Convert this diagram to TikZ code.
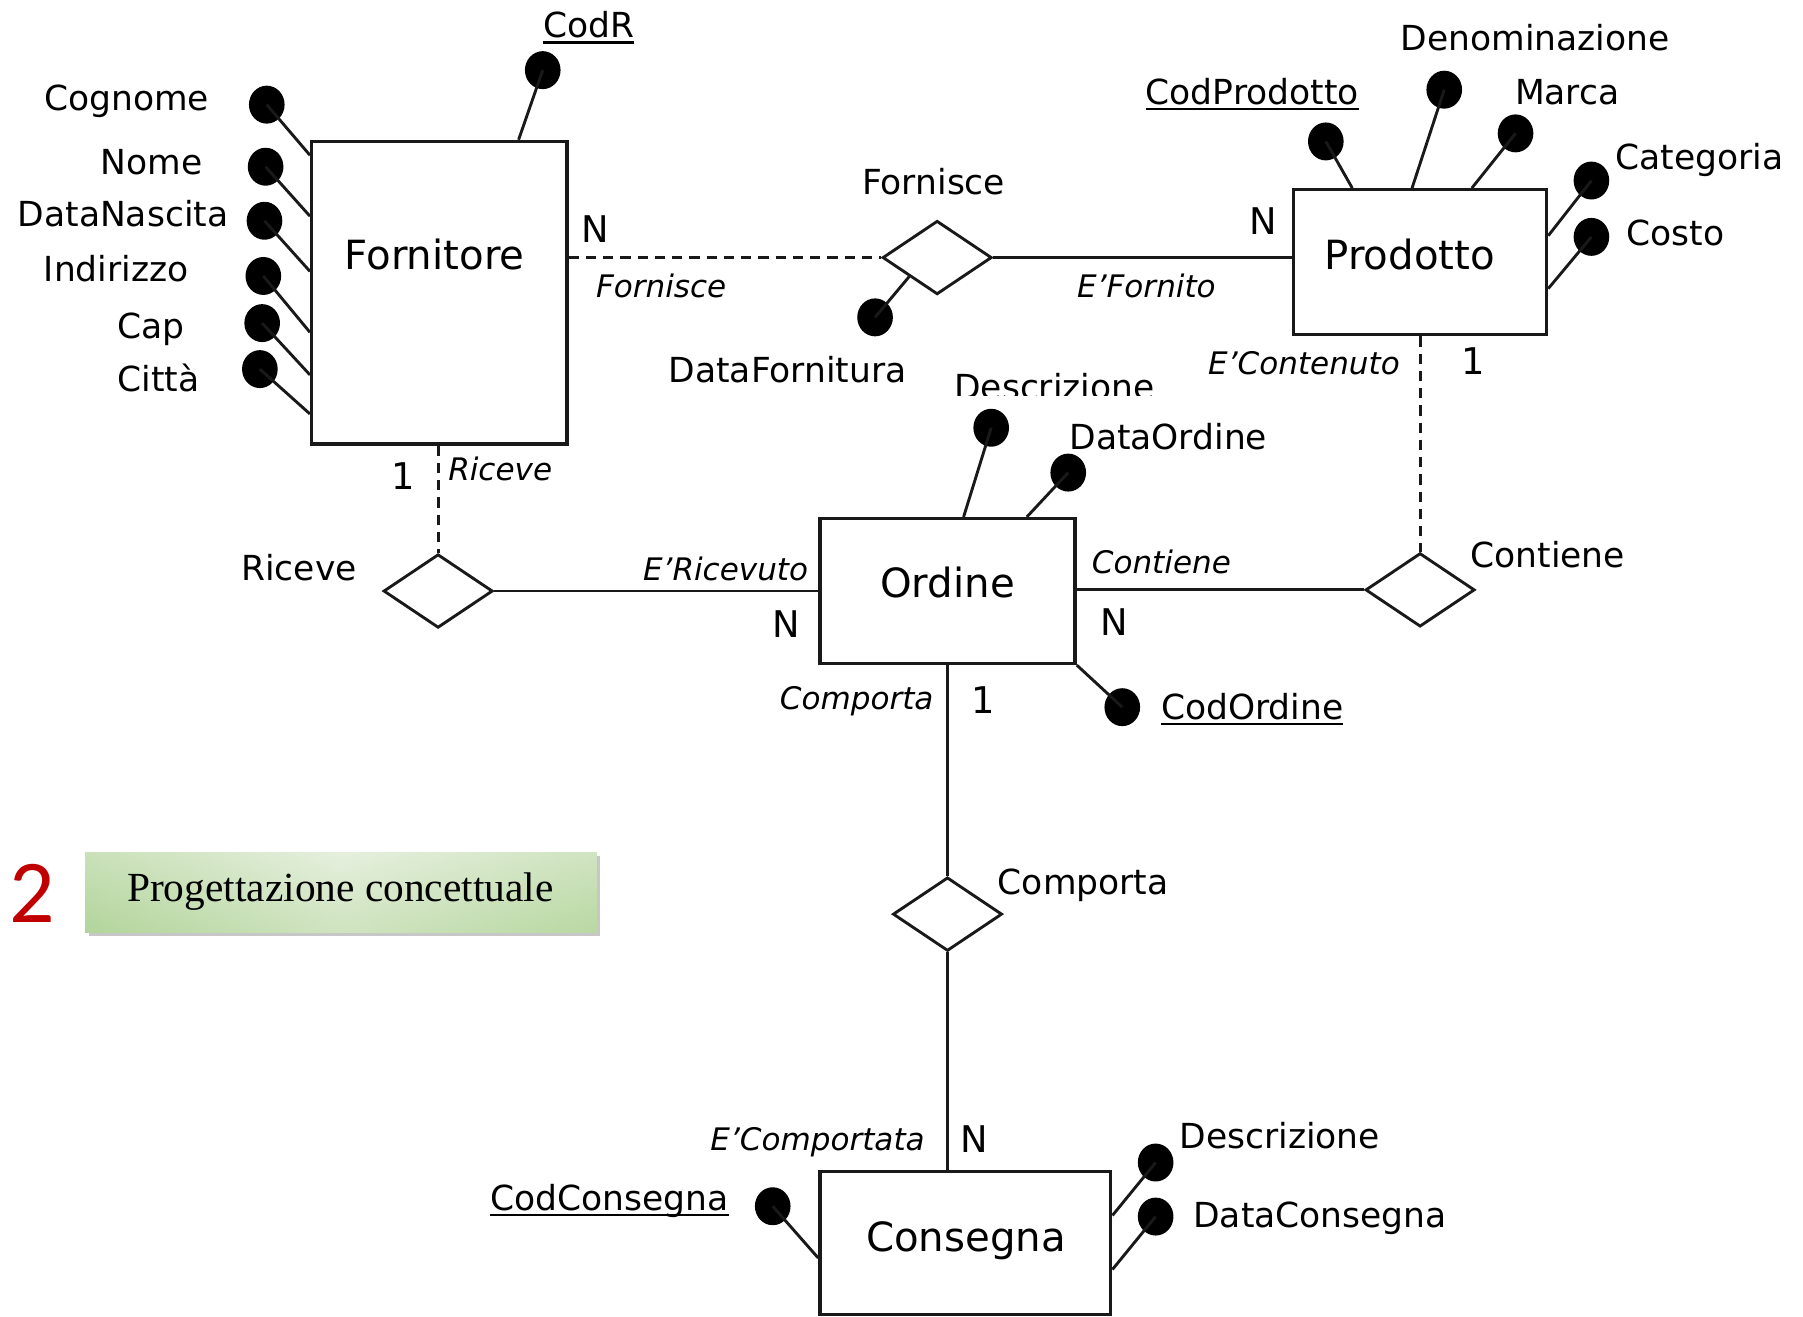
\documentclass[tikz,border=0pt]{standalone}
\usepackage{fontspec}
\setmainfont{DejaVu Sans}
\newfontfamily\serifx{Liberation Serif}
\newfontfamily\numfont{Carlito}
\usetikzlibrary{shapes.geometric,calc,shadows}
\newcommand\ulk[1]{\setbox0=\hbox{#1}\rlap{\rule[-0.17em]{\wd0}{0.065em}}\box0}
\definecolor{dred}{HTML}{C00000}
\definecolor{gA}{HTML}{B3D59B}
\definecolor{gB}{HTML}{E6F0DE}
\definecolor{gC}{HTML}{BEDBA9}
\tikzset{
  ent/.style={draw=black!90,line width=2.9pt,fill=white,inner sep=0pt},
  rel/.style={draw=black!90,line width=2.5pt,fill=white,shape=diamond,inner sep=0pt,minimum width=95pt,minimum height=64pt},
  dot/.style={shape=ellipse,fill=black,inner sep=0pt,minimum width=31pt,minimum height=33pt},
  conn/.style={line width=2.5pt,draw=black!90},
  dconn/.style={line width=2.5pt,draw=black!90,dash pattern=on 9pt off 6pt},
  attr/.style={font=\fontsize{30}{36}\selectfont,inner sep=0pt,anchor=mid,yshift=-8pt},
  entl/.style={font=\fontsize{35}{42}\selectfont,inner sep=0pt,anchor=mid,yshift=-9pt},
  role/.style={font=\fontsize{27}{32}\selectfont\itshape,inner sep=0pt,anchor=mid,yshift=-7pt},
  card/.style={font=\fontsize{32}{38}\selectfont,inner sep=0pt,anchor=center},
}
\begin{document}
\begin{tikzpicture}[x=1pt,y=-1pt]
\useasboundingbox (0,0) rectangle (1568,1145);
\fill[white] (0,0) rectangle (1568,1145);

% ---------- Fornitore ----------
\node[ent,minimum width=222pt,minimum height=263pt] (F) at (382,254.5) {};
\node[entl] (Ft) at (378,223) {Fornitore};
\node[dot] (dCodR) at (472,61) {};
\node[dot] (dCog) at (232,91) {};
\node[dot] (dNom) at (231,145) {};
\node[dot] (dDN) at (230,192) {};
\node[dot] (dInd) at (229,240) {};
\node[dot] (dCap) at (228,281) {};
\node[dot] (dCit) at (226,321) {};
\draw[conn] (dCodR.center) -- (451,0 |- F.north);
\draw[conn] (dCog.center) -- (F.west |- 0,135);
\draw[conn] (dNom.center) -- (F.west |- 0,188);
\draw[conn] (dDN.center) -- (F.west |- 0,236);
\draw[conn] (dInd.center) -- (F.west |- 0,289);
\draw[conn] (dCap.center) -- (F.west |- 0,326);
\draw[conn] (dCit.center) -- (F.west |- 0,360);
\node[attr] (lCodR) at (512,22) {\ulk{CodR}};
\node[attr] (lCog) at (110,85) {Cognome};
\node[attr] (lNom) at (132,141) {Nome};
\node[attr] (lDN) at (107,186) {DataNascita};
\node[attr] (lInd) at (101,234) {Indirizzo};
\node[attr] (lCap) at (131,284) {Cap};
\node[attr] (lCit) at (138,330) {Città};

% ---------- Prodotto ----------
\node[ent,minimum width=220pt,minimum height=126pt] (P) at (1235,228) {};
\node[entl] (Pt) at (1226,223) {Prodotto};
\node[dot] (dCP) at (1153,123) {};
\node[dot] (dDen) at (1256,78) {};
\node[dot] (dMar) at (1318,116) {};
\node[dot] (dCat) at (1384,157) {};
\node[dot] (dCos) at (1384,206) {};
\draw[conn] (dCP.center) -- (1176,0 |- P.north);
\draw[conn] (dDen.center) -- (1228,0 |- P.north);
\draw[conn] (dMar.center) -- (1280,0 |- P.north);
\draw[conn] (dCat.center) -- (P.east |- 0,205);
\draw[conn] (dCos.center) -- (P.east |- 0,251);
\node[attr] (lCP) at (1089,80) {\ulk{CodProdotto}};
\node[attr] (lDen) at (1335,33) {Denominazione};
\node[attr] (lMar) at (1363,80) {Marca};
\node[attr] (lCat) at (1478,137) {Categoria};
\node[attr] (lCos) at (1457,203) {Costo};

% ---------- Ordine ----------
\node[ent,minimum width=222pt,minimum height=126pt] (O) at (824,514) {};
\node[entl] (Ot) at (824,508) {Ordine};
\node[dot] (dDes) at (862,372) {};
\node[dot] (dDO) at (929,411) {};
\node[dot] (dCO) at (976,615) {};
\draw[conn] (dDes.center) -- (838,0 |- O.north);
\draw[conn] (dDO.center) -- (893,0 |- O.north);
\draw[conn] (dCO.center) -- (O.south east);
\begin{scope}
\clip (800,300) rectangle (1050,344);
\node[attr] (lDes) at (917,337) {Descrizione};
\end{scope}
\node[attr] (lDO) at (1016,380) {DataOrdine};
\node[attr] (lCO) at (1089,615) {\ulk{CodOrdine}};

% ---------- Consegna ----------
\node[ent,minimum width=253pt,minimum height=124pt] (C) at (839.5,1081) {};
\node[entl] (Ct) at (840,1077) {Consegna};
\node[dot] (dCC) at (672,1049) {};
\node[dot] (dCD) at (1005,1011) {};
\node[dot] (dDC) at (1005,1058) {};
\draw[conn] (dCC.center) -- (C.west |- 0,1094);
\draw[conn] (dCD.center) -- (C.east |- 0,1057);
\draw[conn] (dDC.center) -- (C.east |- 0,1104);
\node[attr] (lCC) at (530,1042) {\ulk{CodConsegna}};
\node[attr] (lCD) at (1113,988) {Descrizione};
\node[attr] (lDC) at (1148,1057) {DataConsegna};

% ---------- Relationships ----------
\node[rel] (RF) at (815,224) {};
\node[rel] (RR) at (381,514) {};
\node[rel] (RC) at (1235,513) {};
\node[rel] (RK) at (824,795) {};

\draw[dconn] (F.east |- RF) -- (RF.west);
\draw[conn] (RF.east) -- (P.west |- RF);
\node[dot] (dDF) at (761,276) {};
\draw[conn] (dDF.center) -- ($(RF.west)!0.5!(RF.south)$);
\node[attr] (lRF) at (812,158) {Fornisce};
\node[attr] (lDF) at (685,322) {DataFornitura};
\node[card] (cF1) at (518,199) {N};
\node[role] (rF1) at (575,249) {Fornisce};
\node[role] (rF2) at (997,249) {E’Fornito};
\node[card] (cF2) at (1099,192) {N};

\draw[dconn] (RR |- F.south) -- (RR.north);
\draw[conn] (RR.east) -- (O.west |- RR);
\node[attr] (lRR) at (260,494) {Riceve};
\node[card] (cR1) at (351,414) {1};
\node[role] (rR1) at (435,408) {Riceve};
\node[role] (rR2) at (631,495) {E’Ricevuto};
\node[card] (cR2) at (684,543) {N};

\draw[dconn] (RC |- P.south) -- (RC.north);
\draw[conn] (O.east |- RC) -- (RC.west);
\node[attr] (lRC) at (1346,483) {Contiene};
\node[role] (rC1) at (1134,316) {E’Contenuto};
\node[card] (cC1) at (1281,314) {1};
\node[role] (rC2) at (1010,489) {Contiene};
\node[card] (cC2) at (969,541) {N};

\draw[conn] (RK |- O.south) -- (RK.north);
\draw[conn] (RK.south) -- (RK |- C.north);
\node[attr] (lRK) at (942,767) {Comporta};
\node[role] (rK1) at (745,607) {Comporta};
\node[card] (cK1) at (855,609) {1};
\node[role] (rK2) at (711,991) {E’Comportata};
\node[card] (cK2) at (847,991) {N};

% ---------- Title box ----------
\fill[black!22] (77,744) rectangle (522,814);
\shade[left color=gA, right color=gC, middle color=gB] (74,741) rectangle (519,811);
\shade[top color=gB, bottom color=gA, opacity=0.45] (74,741) rectangle (519,811);
\node[font=\serifx\fontsize{36}{42}\selectfont,inner sep=0pt,anchor=mid,yshift=-9pt] (tit) at (296,772) {Progettazione concettuale};
\node[font=\numfont\fontsize{78}{90}\selectfont,text=dred,inner sep=0pt,anchor=center] (num) at (28,777) {2};
\end{tikzpicture}
\end{document}
